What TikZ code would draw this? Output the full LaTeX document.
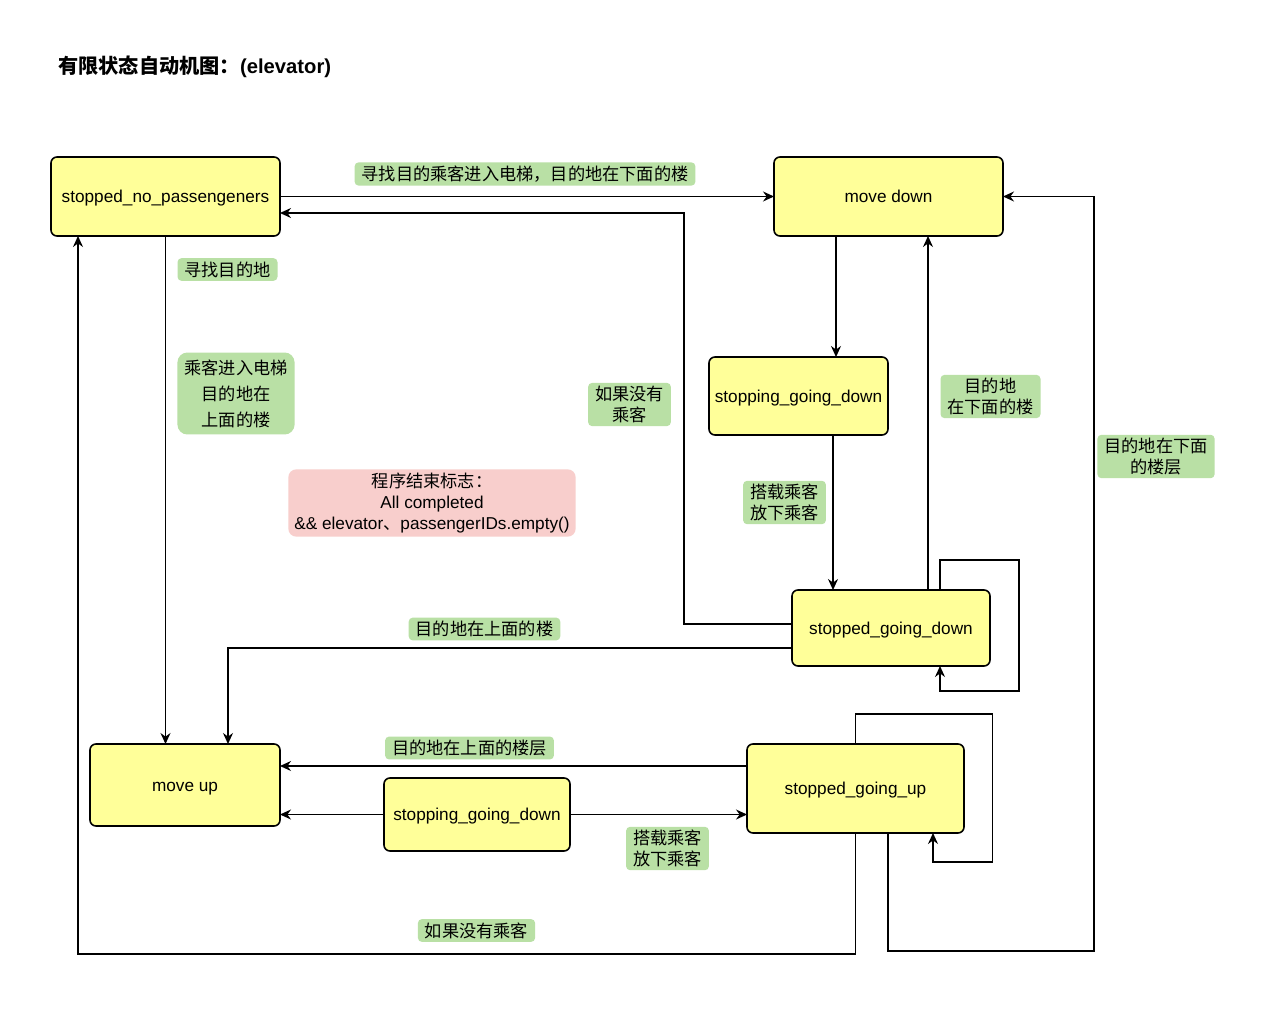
\documentclass[tikz,border=0pt]{standalone}
\usepackage{fontspec}
\setmainfont{Liberation Sans}
\newfontfamily\cjk{Noto Sans CJK SC}
\usepackage{tikz}
\usetikzlibrary{positioning, arrows.meta}
\definecolor{stfill}{HTML}{FFFF99}
\definecolor{condfill}{HTML}{B9E0A5}
\definecolor{notefill}{HTML}{F8CECC}

\begin{document}
\begin{tikzpicture}[->, >={Stealth[length=5.5pt,width=5pt,inset=1.8pt]}, x=0.5pt, y=-0.5pt, line width=0.7pt,
	statebox/.style={draw, line width=0.8pt, rounded corners=3pt, fill=stfill, inner sep=0pt, outer sep=0pt, text height=7.6pt, text depth=1.6pt, font=\fontsize{8.6}{10.3}\selectfont},
	cond/.style={fill=condfill, rounded corners=2pt, inner xsep=3.5pt, inner ysep=1.7pt, align=center, font=\cjk\fontsize{8.6}{10.3}\selectfont},
	endnote/.style={fill=notefill, rounded corners=4pt, inner xsep=3pt, inner ysep=2pt, align=center, font=\fontsize{8.6}{10.3}\selectfont}]
	 	\fill[white] (0,0) rectangle (1267,1016);
	 	\useasboundingbox (0,0) rectangle (1267,1016);
	 	
	 	\node[anchor=west, font=\fontsize{10.1}{12}\selectfont\bfseries] (title) at (51,66.5) {{\cjk 有限状态自动机图：}(elevator)};
	 	
	 	\node[statebox, minimum width=114.5pt, minimum height=39.5pt] (q0) at (165.5,196.5) {stopped\_no\_passengeners};
	 	\node[statebox, minimum width=114.5pt, minimum height=39.5pt, right=247pt of q0] (q1) {move down};
	 	\node[statebox, minimum width=89.5pt, minimum height=39pt, below=60.5pt of q1, xshift=-45pt] (q2) {stopping\_going\_down};
	 	\node[statebox, minimum width=99pt, minimum height=38pt, below=77.5pt of q2, xshift=46.25pt] (q3) {stopped\_going\_down};
	 	\node[statebox, minimum width=95pt, minimum height=41pt, below=254pt of q0, xshift=9.75pt] (q4) {move up};
	 	\node[statebox, minimum width=93pt, minimum height=36.5pt, right=52pt of q4, yshift=-14.75pt] (q5) {stopping\_going\_down};
	 	\node[statebox, minimum width=108.5pt, minimum height=44.5pt, right=88.5pt of q5, yshift=13pt] (q6) {stopped\_going\_up};
	 	
	 	\node[cond] (l1) at (525,174) {寻找目的乘客进入电梯，目的地在下面的楼};
	 	\node[cond] (l2) at (227.5,269.5) {寻找目的地};
	 	\node[cond, rounded corners=5pt, inner xsep=3.5pt, inner ysep=3.5pt, font=\cjk\fontsize{8.6}{13}\selectfont] (l3) at (236,393.5) {乘客进入电梯\\目的地在\\上面的楼};
	 	\node[cond] (l4) at (629.5,404.5) {如果没有\\乘客};
	 	\node[endnote] (l5) at (432,503) {{\cjk 程序结束标志：}\\All completed\\\&\& elevator{\cjk 、}passengerIDs.empty()};
	 	\node[cond] (l6) at (784.5,502.5) {搭载乘客\\放下乘客};
	 	\node[cond] (l7) at (990.5,396.5) {目的地\\在下面的楼};
	 	\node[cond] (l8) at (1156,456.5) {目的地在下面\\的楼层};
	 	\node[cond] (l9) at (484.5,629) {目的地在上面的楼};
	 	\node[cond] (l10) at (469.5,748) {目的地在上面的楼层};
	 	\node[cond] (l11) at (667.5,848.5) {搭载乘客\\放下乘客};
	 	\node[cond] (l12) at (476.5,930.5) {如果没有乘客};
	 	
	 	\draw (q0) -- (q1);
	 	\draw ([yshift=2pt]q3.west) -- ++(-108,0) |- ([yshift=-8.25pt]q0.east);
	 	\draw (q0.south) -- (q0.south |- q4.north);
	 	\draw ([xshift=-26.25pt]q1.south) -- ([xshift=-26.25pt]q1.south |- q2.north);
	 	\draw ([xshift=17.25pt]q2.south) -- ([xshift=17.25pt]q2.south |- q3.north);
	 	\draw ([xshift=18.5pt]q3.north) -- ([xshift=18.5pt]q3.north |- q1.south);
	 	\draw ([xshift=24.5pt]q3.north) -- ++(0,-30) -| ++(79,131) -| ([xshift=24.5pt]q3.south);
	 	\draw ([yshift=-10pt]q3.west) -| ([xshift=21.5pt]q4.north);
	 	\draw ([yshift=11.25pt]q6.west) -- ([yshift=11.25pt]q6.west -| q4.east);
	 	\draw (q5.west) -- (q5.west -| q4.east);
	 	\draw (q5.east) -- (q5.east -| q6.west);
	 	\draw (q6.north) -- ++(0,-30) -| ++(137,148) -| ([xshift=38.75pt]q6.south);
	 	\draw (q6.south) -- ++(0,121) -| ([xshift=-43.75pt]q0.south);
	 	\draw ([xshift=16.25pt]q6.south) -- ++(0,118) -| ([xshift=45.5pt]q1.east) -- (q1.east);
	 \end{tikzpicture}
\end{document}
